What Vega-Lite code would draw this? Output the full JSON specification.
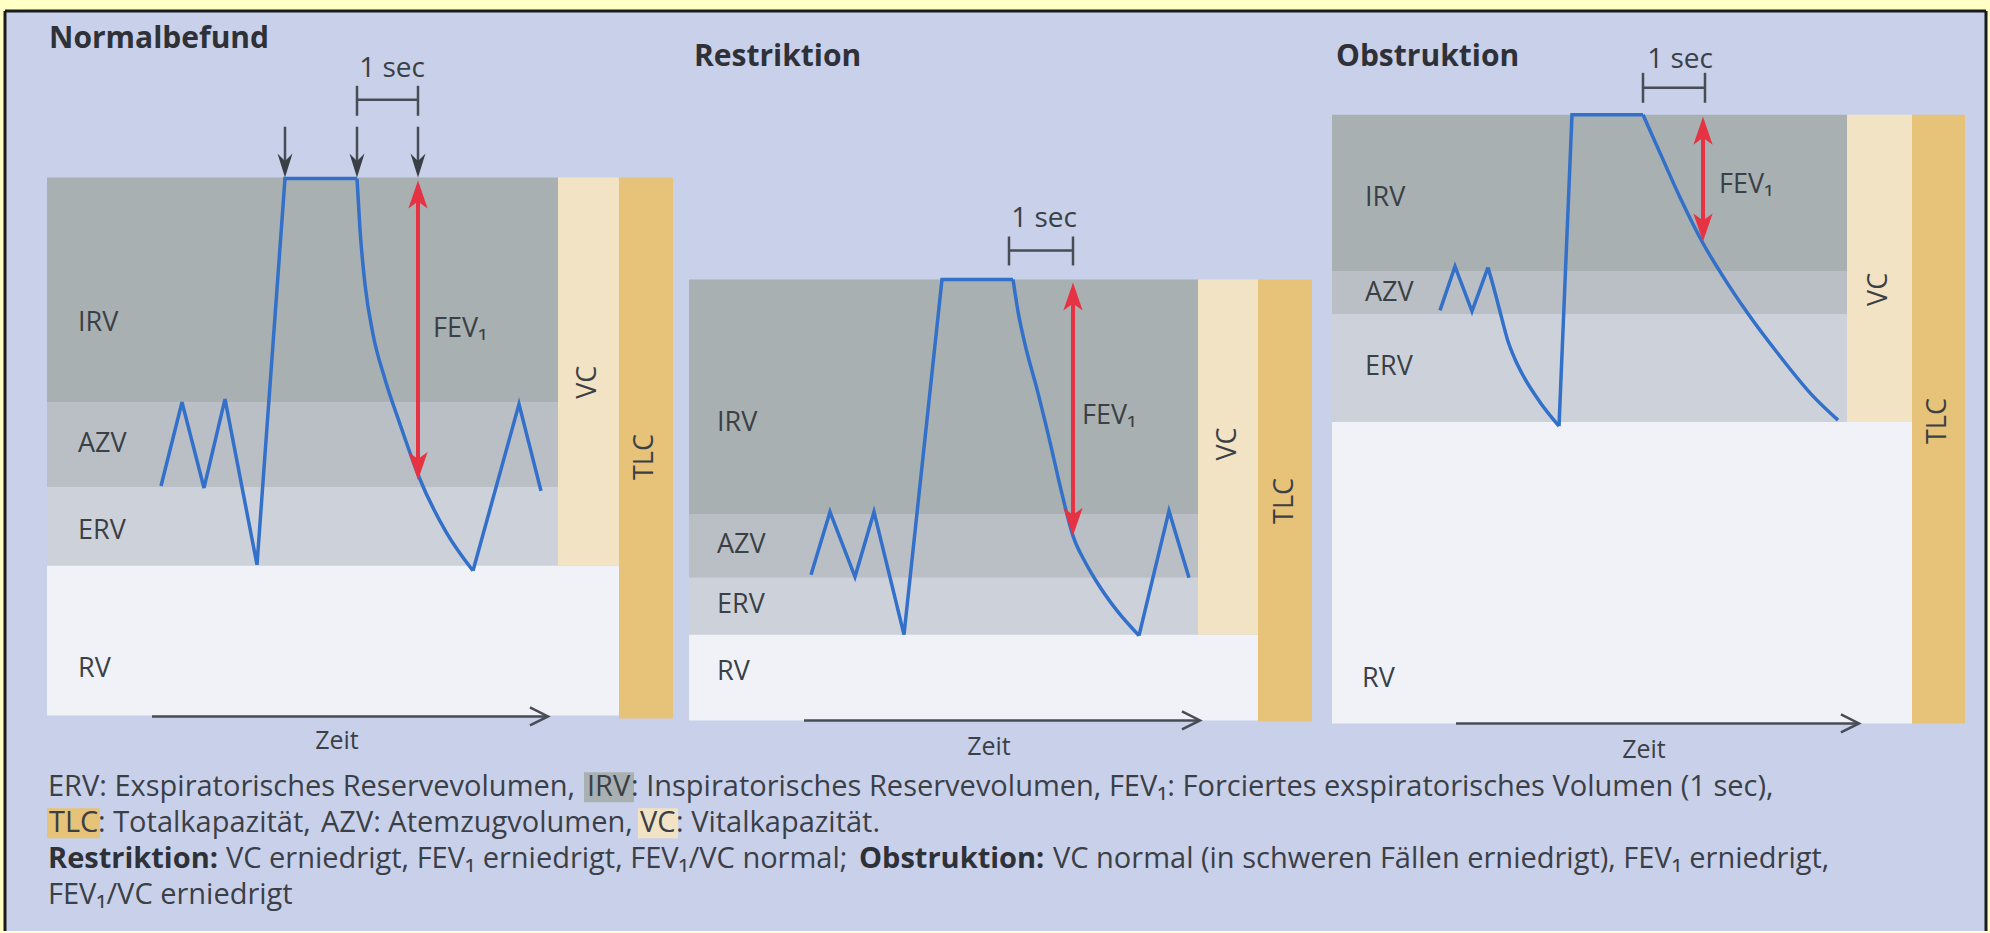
{
  "$schema": "https://vega.github.io/schema/vega-lite/v6.json",
  "width": 1990,
  "height": 933,
  "autosize": {"type": "fit", "contains": "padding"},
  "padding": 0,
  "background": "#FFFFC6",
  "config": {"view": {"stroke": null}},
  "datasets": {
    "frame": [{"x": 5, "x2": 1986, "y": 11, "y2": 933}],
    "border": [
      {"x": 5, "x2": 5, "y": 11, "y2": 933},
      {"x": 5, "x2": 1986, "y": 11, "y2": 11},
      {"x": 1986, "x2": 1986, "y": 11, "y2": 933}
    ],
    "bands": [
      {"part": "IRV", "x": 47, "x2": 558, "y": 178, "y2": 403},
      {"part": "AZV", "x": 47, "x2": 558, "y": 403, "y2": 488},
      {"part": "ERV", "x": 47, "x2": 558, "y": 488, "y2": 567},
      {"part": "RV", "x": 47, "x2": 619, "y": 567, "y2": 717},
      {"part": "VC", "x": 558, "x2": 619, "y": 178, "y2": 567},
      {"part": "TLC", "x": 619, "x2": 673, "y": 178, "y2": 720},
      {"part": "IRV", "x": 689, "x2": 1198, "y": 280, "y2": 515},
      {"part": "AZV", "x": 689, "x2": 1198, "y": 515, "y2": 579},
      {"part": "ERV", "x": 689, "x2": 1198, "y": 579, "y2": 636},
      {"part": "RV", "x": 689, "x2": 1258, "y": 636, "y2": 722},
      {"part": "VC", "x": 1198, "x2": 1258, "y": 280, "y2": 636},
      {"part": "TLC", "x": 1258, "x2": 1312, "y": 280, "y2": 723},
      {"part": "IRV", "x": 1332, "x2": 1847, "y": 115, "y2": 272},
      {"part": "AZV", "x": 1332, "x2": 1847, "y": 272, "y2": 315},
      {"part": "ERV", "x": 1332, "x2": 1847, "y": 315, "y2": 423},
      {"part": "RV", "x": 1332, "x2": 1912, "y": 423, "y2": 725},
      {"part": "VC", "x": 1847, "x2": 1912, "y": 115, "y2": 423},
      {"part": "TLC", "x": 1912, "x2": 1965, "y": 115, "y2": 725},
      {"part": "IRV", "x": 584, "x2": 634, "y": 774, "y2": 804},
      {"part": "TLC", "x": 47, "x2": 100, "y": 810, "y2": 840},
      {"part": "VC", "x": 638, "x2": 678, "y": 810, "y2": 840}
    ],
    "curves": [
      {"seg": "p1a", "style": "lin", "x": 161, "y": 487},
      {"seg": "p1a", "style": "lin", "x": 182, "y": 403},
      {"seg": "p1a", "style": "lin", "x": 204, "y": 489},
      {"seg": "p1a", "style": "lin", "x": 225, "y": 400},
      {"seg": "p1a", "style": "lin", "x": 257, "y": 566},
      {"seg": "p1a", "style": "lin", "x": 285, "y": 179},
      {"seg": "p1a", "style": "lin", "x": 357, "y": 179},
      {"seg": "p1b", "style": "mono", "x": 357, "y": 179},
      {"seg": "p1b", "style": "mono", "x": 360, "y": 230},
      {"seg": "p1b", "style": "mono", "x": 365, "y": 285},
      {"seg": "p1b", "style": "mono", "x": 373, "y": 335},
      {"seg": "p1b", "style": "mono", "x": 385, "y": 380},
      {"seg": "p1b", "style": "mono", "x": 400, "y": 425},
      {"seg": "p1b", "style": "mono", "x": 419, "y": 478},
      {"seg": "p1b", "style": "mono", "x": 446, "y": 533},
      {"seg": "p1b", "style": "mono", "x": 473, "y": 572},
      {"seg": "p1c", "style": "lin", "x": 473, "y": 572},
      {"seg": "p1c", "style": "lin", "x": 519, "y": 405},
      {"seg": "p1c", "style": "lin", "x": 541, "y": 492},
      {"seg": "p2a", "style": "lin", "x": 811, "y": 576},
      {"seg": "p2a", "style": "lin", "x": 830, "y": 513},
      {"seg": "p2a", "style": "lin", "x": 855, "y": 578},
      {"seg": "p2a", "style": "lin", "x": 874, "y": 513},
      {"seg": "p2a", "style": "lin", "x": 904, "y": 636},
      {"seg": "p2a", "style": "lin", "x": 942, "y": 280},
      {"seg": "p2a", "style": "lin", "x": 1013, "y": 280},
      {"seg": "p2b", "style": "mono", "x": 1013, "y": 280},
      {"seg": "p2b", "style": "mono", "x": 1018, "y": 312},
      {"seg": "p2b", "style": "mono", "x": 1025, "y": 345},
      {"seg": "p2b", "style": "mono", "x": 1037, "y": 390},
      {"seg": "p2b", "style": "mono", "x": 1050, "y": 443},
      {"seg": "p2b", "style": "mono", "x": 1062, "y": 495},
      {"seg": "p2b", "style": "mono", "x": 1073, "y": 537},
      {"seg": "p2b", "style": "mono", "x": 1085, "y": 563},
      {"seg": "p2b", "style": "mono", "x": 1096, "y": 582},
      {"seg": "p2b", "style": "mono", "x": 1117, "y": 612},
      {"seg": "p2b", "style": "mono", "x": 1139, "y": 637},
      {"seg": "p2c", "style": "lin", "x": 1139, "y": 637},
      {"seg": "p2c", "style": "lin", "x": 1169, "y": 512},
      {"seg": "p2c", "style": "lin", "x": 1189, "y": 579},
      {"seg": "p3a", "style": "lin", "x": 1440, "y": 311},
      {"seg": "p3a", "style": "lin", "x": 1455, "y": 267},
      {"seg": "p3a", "style": "lin", "x": 1472, "y": 312},
      {"seg": "p3a", "style": "lin", "x": 1488, "y": 268},
      {"seg": "p3b", "style": "mono", "x": 1488, "y": 268},
      {"seg": "p3b", "style": "mono", "x": 1495, "y": 293},
      {"seg": "p3b", "style": "mono", "x": 1502, "y": 320},
      {"seg": "p3b", "style": "mono", "x": 1508, "y": 342},
      {"seg": "p3b", "style": "mono", "x": 1515, "y": 360},
      {"seg": "p3b", "style": "mono", "x": 1524, "y": 378},
      {"seg": "p3b", "style": "mono", "x": 1540, "y": 403},
      {"seg": "p3b", "style": "mono", "x": 1559, "y": 427},
      {"seg": "p3c", "style": "lin", "x": 1559, "y": 427},
      {"seg": "p3c", "style": "lin", "x": 1572, "y": 115},
      {"seg": "p3c", "style": "lin", "x": 1643, "y": 115},
      {"seg": "p3d", "style": "mono", "x": 1643, "y": 115},
      {"seg": "p3d", "style": "mono", "x": 1663, "y": 160},
      {"seg": "p3d", "style": "mono", "x": 1681, "y": 200},
      {"seg": "p3d", "style": "mono", "x": 1702, "y": 242},
      {"seg": "p3d", "style": "mono", "x": 1723, "y": 277},
      {"seg": "p3d", "style": "mono", "x": 1747, "y": 313},
      {"seg": "p3d", "style": "mono", "x": 1780, "y": 357},
      {"seg": "p3d", "style": "mono", "x": 1813, "y": 397},
      {"seg": "p3d", "style": "mono", "x": 1838, "y": 421}
    ],
    "rules": [
      {"kind": "red", "x": 418, "x2": 418, "y": 201, "y2": 461},
      {"kind": "red", "x": 1073, "x2": 1073, "y": 303, "y2": 517},
      {"kind": "red", "x": 1703, "x2": 1703, "y": 137, "y2": 222},
      {"kind": "dark", "x": 357, "x2": 418, "y": 100, "y2": 100},
      {"kind": "dark", "x": 357, "x2": 357, "y": 86, "y2": 116},
      {"kind": "dark", "x": 418, "x2": 418, "y": 86, "y2": 116},
      {"kind": "dark", "x": 285, "x2": 285, "y": 127, "y2": 165},
      {"kind": "dark", "x": 357, "x2": 357, "y": 127, "y2": 165},
      {"kind": "dark", "x": 418, "x2": 418, "y": 127, "y2": 165},
      {"kind": "dark", "x": 1009, "x2": 1073, "y": 251, "y2": 251},
      {"kind": "dark", "x": 1009, "x2": 1009, "y": 237, "y2": 266},
      {"kind": "dark", "x": 1073, "x2": 1073, "y": 237, "y2": 266},
      {"kind": "dark", "x": 1643, "x2": 1705, "y": 88, "y2": 88},
      {"kind": "dark", "x": 1643, "x2": 1643, "y": 73, "y2": 103},
      {"kind": "dark", "x": 1705, "x2": 1705, "y": 73, "y2": 103},
      {"kind": "dark", "x": 152, "x2": 546, "y": 718, "y2": 718},
      {"kind": "dark", "x": 804, "x2": 1198, "y": 722, "y2": 722},
      {"kind": "dark", "x": 1456, "x2": 1857, "y": 725, "y2": 725}
    ],
    "heads": [
      {"kind": "redUp", "x": 418, "y": 181},
      {"kind": "redUp", "x": 1073, "y": 283},
      {"kind": "redUp", "x": 1703, "y": 117},
      {"kind": "redDown", "x": 418, "y": 481},
      {"kind": "redDown", "x": 1073, "y": 537},
      {"kind": "redDown", "x": 1703, "y": 242},
      {"kind": "blkDown", "x": 285, "y": 178},
      {"kind": "blkDown", "x": 357, "y": 178},
      {"kind": "blkDown", "x": 418, "y": 178},
      {"kind": "zeit", "x": 548, "y": 718},
      {"kind": "zeit", "x": 1200, "y": 722},
      {"kind": "zeit", "x": 1859, "y": 725}
    ],
    "labels": [
      {"kind": "region", "t": "IRV", "x": 78, "y": 324},
      {"kind": "region", "t": "AZV", "x": 78, "y": 445},
      {"kind": "region", "t": "ERV", "x": 78, "y": 532},
      {"kind": "region", "t": "RV", "x": 78, "y": 670},
      {"kind": "region", "t": "IRV", "x": 717, "y": 424},
      {"kind": "region", "t": "AZV", "x": 717, "y": 546},
      {"kind": "region", "t": "ERV", "x": 717, "y": 606},
      {"kind": "region", "t": "RV", "x": 717, "y": 673},
      {"kind": "region", "t": "IRV", "x": 1365, "y": 198},
      {"kind": "region", "t": "AZV", "x": 1365, "y": 294},
      {"kind": "region", "t": "ERV", "x": 1365, "y": 368},
      {"kind": "region", "t": "RV", "x": 1362, "y": 680},
      {"kind": "fev", "t": "FEV₁", "x": 433, "y": 330},
      {"kind": "fev", "t": "FEV₁", "x": 1082, "y": 417},
      {"kind": "fev", "t": "FEV₁", "x": 1719, "y": 185},
      {"kind": "rot", "t": "VC", "x": 588, "y": 383},
      {"kind": "rot", "t": "TLC", "x": 645, "y": 458},
      {"kind": "rot", "t": "VC", "x": 1228, "y": 445},
      {"kind": "rot", "t": "TLC", "x": 1285, "y": 502},
      {"kind": "rot", "t": "VC", "x": 1879, "y": 290},
      {"kind": "rot", "t": "TLC", "x": 1938, "y": 422},
      {"kind": "title", "t": "Normalbefund", "x": 49, "y": 39},
      {"kind": "title", "t": "Restriktion", "x": 694, "y": 57},
      {"kind": "title", "t": "Obstruktion", "x": 1336, "y": 57},
      {"kind": "sec", "t": "1 sec", "x": 392, "y": 69},
      {"kind": "sec", "t": "1 sec", "x": 1044, "y": 219},
      {"kind": "sec", "t": "1 sec", "x": 1680, "y": 60},
      {"kind": "zeit", "t": "Zeit", "x": 337, "y": 743},
      {"kind": "zeit", "t": "Zeit", "x": 989, "y": 749},
      {"kind": "zeit", "t": "Zeit", "x": 1644, "y": 752},
      {"kind": "cap", "t": "ERV: Exspiratorisches Reservevolumen,", "x": 48, "y": 789},
      {"kind": "cap", "t": "IRV", "x": 587, "y": 789},
      {"kind": "cap", "t": ": Inspiratorisches Reservevolumen, FEV₁: Forciertes exspiratorisches Volumen (1 sec),", "x": 631, "y": 789},
      {"kind": "cap", "t": "TLC", "x": 49, "y": 825},
      {"kind": "cap", "t": ": Totalkapazität,", "x": 98, "y": 825},
      {"kind": "cap", "t": "AZV: Atemzugvolumen,", "x": 321, "y": 825},
      {"kind": "cap", "t": "VC", "x": 640, "y": 825},
      {"kind": "cap", "t": ": Vitalkapazität.", "x": 676, "y": 825},
      {"kind": "capb", "t": "Restriktion:", "x": 48, "y": 861},
      {"kind": "cap", "t": "VC erniedrigt, FEV₁ erniedrigt, FEV₁/VC normal;", "x": 226, "y": 861},
      {"kind": "capb", "t": "Obstruktion:", "x": 859, "y": 861},
      {"kind": "cap", "t": "VC normal (in schweren Fällen erniedrigt), FEV₁ erniedrigt,", "x": 1053, "y": 861},
      {"kind": "cap", "t": "FEV₁/VC erniedrigt", "x": 48, "y": 897}
    ]
  },
  "encoding": {
    "x": {"field": "x", "type": "quantitative", "scale": {"domain": [0, 1990], "nice": false, "zero": false}, "axis": null},
    "y": {"field": "y", "type": "quantitative", "scale": {"domain": [0, 933], "reverse": true, "nice": false, "zero": false}, "axis": null}
  },
  "layer": [
    {
      "data": {"name": "frame"},
      "mark": {"type": "rect", "fill": "#C9D0EA"},
      "encoding": {"x2": {"field": "x2"}, "y2": {"field": "y2"}}
    },
    {
      "data": {"name": "border"},
      "mark": {"type": "rule", "color": "#1A1A1A", "strokeWidth": 3},
      "encoding": {"x2": {"field": "x2"}, "y2": {"field": "y2"}}
    },
    {
      "data": {"name": "bands"},
      "mark": {"type": "rect"},
      "encoding": {
        "x2": {"field": "x2"},
        "y2": {"field": "y2"},
        "color": {"field": "part", "type": "nominal", "legend": null,
          "scale": {"domain": ["IRV", "AZV", "ERV", "RV", "VC", "TLC"],
                    "range": ["#A8B0B2", "#B9BFC5", "#CDD2DA", "#F0F2F8", "#F1E3C3", "#E7C279"]}}
      }
    },
    {
      "data": {"name": "rules"},
      "transform": [{"filter": "datum.kind === 'dark'"}],
      "mark": {"type": "rule", "color": "#474C55", "strokeWidth": 2.5},
      "encoding": {"x2": {"field": "x2"}, "y2": {"field": "y2"}}
    },
    {
      "data": {"name": "rules"},
      "transform": [{"filter": "datum.kind === 'red'"}],
      "mark": {"type": "rule", "color": "#E63343", "strokeWidth": 4},
      "encoding": {"x2": {"field": "x2"}, "y2": {"field": "y2"}}
    },
    {
      "data": {"name": "curves"},
      "transform": [{"filter": "datum.style === 'lin'"}],
      "mark": {"type": "line", "color": "#3370C9", "strokeWidth": 3.5, "interpolate": "linear"},
      "encoding": {"detail": {"field": "seg", "type": "nominal"}}
    },
    {
      "data": {"name": "curves"},
      "transform": [{"filter": "datum.style === 'mono'"}],
      "mark": {"type": "line", "color": "#3370C9", "strokeWidth": 3.5, "interpolate": "monotone"},
      "encoding": {"detail": {"field": "seg", "type": "nominal"}}
    },
    {
      "data": {"name": "heads"},
      "transform": [{"filter": "datum.kind === 'redUp'"}],
      "mark": {"type": "point", "shape": "M0,0 L0.55,1.6 L0,1.2 L-0.55,1.6 Z", "size": 1225, "filled": true, "color": "#E63343", "opacity": 1, "strokeWidth": 0}
    },
    {
      "data": {"name": "heads"},
      "transform": [{"filter": "datum.kind === 'redDown'"}],
      "mark": {"type": "point", "shape": "M0,0 L0.55,-1.6 L0,-1.2 L-0.55,-1.6 Z", "size": 1225, "filled": true, "color": "#E63343", "opacity": 1, "strokeWidth": 0}
    },
    {
      "data": {"name": "heads"},
      "transform": [{"filter": "datum.kind === 'blkDown'"}],
      "mark": {"type": "point", "shape": "M0,0 L0.5,-1.6 L0,-1.1 L-0.5,-1.6 Z", "size": 900, "filled": true, "color": "#3A3E45", "opacity": 1, "strokeWidth": 0}
    },
    {
      "data": {"name": "heads"},
      "transform": [{"filter": "datum.kind === 'zeit'"}],
      "mark": {"type": "point", "shape": "M-1.4,-0.7 L0,0 L-1.4,0.7", "size": 664, "filled": false, "stroke": "#474C55", "strokeWidth": 2.5, "opacity": 1}
    },
    {
      "data": {"name": "labels"},
      "transform": [{"filter": "datum.kind === 'region' || datum.kind === 'fev'"}],
      "mark": {"type": "text", "align": "left", "baseline": "middle", "font": "Open Sans", "fontSize": 27, "color": "#3B3F46"},
      "encoding": {"text": {"field": "t", "type": "nominal"}}
    },
    {
      "data": {"name": "labels"},
      "transform": [{"filter": "datum.kind === 'rot'"}],
      "mark": {"type": "text", "align": "center", "baseline": "middle", "angle": 270, "font": "Open Sans", "fontSize": 27, "color": "#3B3F46"},
      "encoding": {"text": {"field": "t", "type": "nominal"}}
    },
    {
      "data": {"name": "labels"},
      "transform": [{"filter": "datum.kind === 'title'"}],
      "mark": {"type": "text", "align": "left", "baseline": "middle", "font": "Open Sans", "fontWeight": "bold", "fontSize": 30, "color": "#2E3238"},
      "encoding": {"text": {"field": "t", "type": "nominal"}}
    },
    {
      "data": {"name": "labels"},
      "transform": [{"filter": "datum.kind === 'sec'"}],
      "mark": {"type": "text", "align": "center", "baseline": "middle", "font": "Open Sans", "fontSize": 28, "color": "#3B3F46"},
      "encoding": {"text": {"field": "t", "type": "nominal"}}
    },
    {
      "data": {"name": "labels"},
      "transform": [{"filter": "datum.kind === 'zeit'"}],
      "mark": {"type": "text", "align": "center", "baseline": "middle", "font": "Open Sans", "fontSize": 25, "color": "#3B3F46"},
      "encoding": {"text": {"field": "t", "type": "nominal"}}
    },
    {
      "data": {"name": "labels"},
      "transform": [{"filter": "datum.kind === 'cap'"}],
      "mark": {"type": "text", "align": "left", "baseline": "middle", "font": "Open Sans", "fontSize": 29, "color": "#3B3F46"},
      "encoding": {"text": {"field": "t", "type": "nominal"}}
    },
    {
      "data": {"name": "labels"},
      "transform": [{"filter": "datum.kind === 'capb'"}],
      "mark": {"type": "text", "align": "left", "baseline": "middle", "font": "Open Sans", "fontWeight": "bold", "fontSize": 29, "color": "#2E3238"},
      "encoding": {"text": {"field": "t", "type": "nominal"}}
    }
  ]
}
